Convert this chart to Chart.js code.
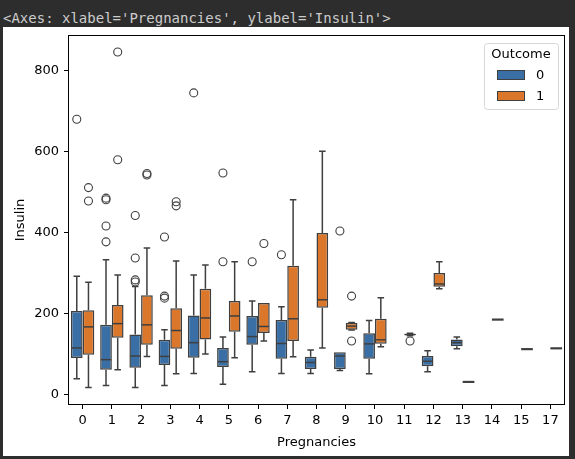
<!DOCTYPE html>
<html>
<head>
<meta charset="utf-8">
<script src="https://cdn.jsdelivr.net/npm/chart.js@4.4.0/dist/chart.umd.min.js"></script>
<style>
  html, body { margin: 0; padding: 0; background: #2d2d2d; width: 575px; height: 459px; overflow: hidden; }
  #head { position: absolute; left: 3px; top: 9px; font: 14px "DejaVu Sans Mono", monospace; color: #cccccc; white-space: pre; line-height: 18px; }
  #panel { position: absolute; left: 3px; top: 27px; width: 566px; height: 429px; background: #fff; }
  canvas { display: block; }
</style>
</head>
<body>
<div id="head">&lt;Axes: xlabel='Pregnancies', ylabel='Insulin'&gt;</div>
<div id="panel"><canvas id="chart" width="566" height="429"></canvas></div>
<script>
// categories on the x axis (Pregnancies)
const categories = ["0", "1", "2", "3", "4", "5", "6", "7", "8", "9", "10", "11", "12", "13", "14", "15", "17"];
const hueLabels = ["0", "1"];
const legendTitle = "Outcome";
const yTicks = [0, 200, 400, 600, 800];

// Outcome 0 : whisker low, Q1, median, Q3, whisker high, fliers
const lo0  = [39, 22, 17, 22, 52, 25, 56, 52, 52, 59, 51, null, 56, 113, null, null, null];
const q1_0 = [90, 61, 66, 73, 91, 68, 123, 88, 63, 63, 88, null, 70, 119, null, null, null];
const med0 = [115, 86, 95, 94, 128, 81, 143, 126, 79, 95, 125, null, 82, 128, null, null, null];
const q3_0 = [206, 172, 148, 135, 195, 115, 194, 184, 93, 104, 151, null, 95, 136, null, null, null];
const hi0  = [292, 333, 267, 160, 295, 142, 231, 217, 110, 104, 183, null, 108, 142, null, null, null];
const out0 = [[680], [485, 481, 416, 377], [442, 337, 283, 278], [389, 243, 238], [745], [547, 328], [328], [345], [], [404], [], [], [], [], [], [], []];

// Outcome 1
const lo1  = [17, 61, 94, 51, 100, 91, 132, 93, 115, 159, 118, 145, 261, 31, 185, 112, 114];
const q1_1 = [98, 140, 123, 113, 136, 155, 152, 132, 214, 160, 125, 146, 266, 31, 185, 112, 114];
const med1 = [167, 175, 172, 158, 189, 194, 168, 187, 234, 169, 135, 148, 273, 31, 185, 112, 114];
const q3_1 = [208, 221, 245, 213, 261, 231, 226, 318, 399, 177, 187, 150, 300, 31, 185, 112, 114];
const hi1  = [277, 295, 362, 330, 320, 328, 226, 481, 601, 178, 239, 151, 328, 31, 185, 112, 114];
const out1 = [[511, 478], [846, 580], [546, 542], [476, 466], [], [], [373], [], [], [243, 132], [], [132], [], [], [], [], []];

const palette = ["#3a6fa5", "#da772b"];
const lineColor = "#3f3f3f";
const font = { family: "DejaVu Sans", size: 13 };

function boxData(q1, q3) {
  return q1.map((v, i) => (v == null ? null : [v, q3[i]]));
}

// whiskers, medians, fliers, spines and legend drawn on top of the IQR bars
const boxPlugin = {
  id: "boxWhiskers",
  afterDatasetsDraw(chart) {
    const ctx = chart.ctx;
    const y = chart.scales.y;
    const area = chart.chartArea;
    ctx.save();
    chart.data.datasets.forEach((ds, di) => {
      const meta = chart.getDatasetMeta(di);
      const st = ds.stats;
      meta.data.forEach((bar, i) => {
        if (st.med[i] == null) return;
        const { x, width } = bar.getProps(["x", "width"], true);
        const half = width / 2;
        const cap = width * 0.28;
        const flat = st.q1[i] === st.q3[i];
        ctx.strokeStyle = lineColor;
        ctx.lineWidth = 1.5;
        ctx.lineCap = "butt";
        ctx.beginPath();
        if (st.hi[i] > st.q3[i]) {
          ctx.moveTo(x, y.getPixelForValue(st.q3[i]));
          ctx.lineTo(x, y.getPixelForValue(st.hi[i]));
          ctx.moveTo(x - cap, y.getPixelForValue(st.hi[i]));
          ctx.lineTo(x + cap, y.getPixelForValue(st.hi[i]));
        }
        if (st.lo[i] < st.q1[i]) {
          ctx.moveTo(x, y.getPixelForValue(st.q1[i]));
          ctx.lineTo(x, y.getPixelForValue(st.lo[i]));
          ctx.moveTo(x - cap, y.getPixelForValue(st.lo[i]));
          ctx.lineTo(x + cap, y.getPixelForValue(st.lo[i]));
        }
        ctx.stroke();
        const my = y.getPixelForValue(st.med[i]);
        ctx.beginPath();
        ctx.lineWidth = flat ? 2.2 : 1.5;
        ctx.moveTo(x - half + (flat ? 0 : 0.75), my);
        ctx.lineTo(x + half - (flat ? 0 : 0.75), my);
        ctx.stroke();

        ctx.lineWidth = 1.1;
        st.out[i].forEach(v => {
          ctx.beginPath();
          ctx.arc(x, y.getPixelForValue(v), 4, 0, Math.PI * 2);
          ctx.stroke();
        });
      });
    });

    // spines
    ctx.strokeStyle = "#000";
    ctx.lineWidth = 1;
    ctx.strokeRect(area.left + 0.5, area.top + 0.5, area.right - area.left - 1, area.bottom - area.top - 1);

    // legend
    const lw = 74, lh = 66;
    const lx = area.right - 7 - lw, ly = area.top + 8;
    ctx.beginPath();
    ctx.roundRect(lx + 0.5, ly + 0.5, lw, lh, 3);
    ctx.fillStyle = "rgba(255,255,255,0.8)";
    ctx.fill();
    ctx.strokeStyle = "#d6d6d6";
    ctx.stroke();
    ctx.font = `${font.size}px "${font.family}"`;
    ctx.fillStyle = "#000";
    ctx.textBaseline = "middle";
    ctx.textAlign = "center";
    ctx.fillText(legendTitle, lx + lw / 2, ly + 12);
    ctx.textAlign = "left";
    hueLabels.forEach((lab, k) => {
      const py = ly + 27 + k * 21;
      ctx.fillStyle = palette[k];
      ctx.fillRect(lx + 13, py, 28, 10);
      ctx.strokeStyle = lineColor;
      ctx.lineWidth = 1;
      ctx.strokeRect(lx + 13.5, py + 0.5, 27, 9);
      ctx.fillStyle = "#000";
      ctx.fillText(lab, lx + 52, py + 5.5);
    });
    ctx.restore();
  }
};

const datasets = [
  { label: hueLabels[0], data: boxData(q1_0, q3_0), backgroundColor: palette[0],
    stats: { lo: lo0, q1: q1_0, med: med0, q3: q3_0, hi: hi0, out: out0 } },
  { label: hueLabels[1], data: boxData(q1_1, q3_1), backgroundColor: palette[1],
    stats: { lo: lo1, q1: q1_1, med: med1, q3: q3_1, hi: hi1, out: out1 } }
].map(d => Object.assign(d, {
  borderColor: lineColor,
  borderWidth: 1.5,
  borderSkipped: false,
  categoryPercentage: 0.8,
  barPercentage: 1.0
}));

new Chart(document.getElementById("chart"), {
  type: "bar",
  data: { labels: categories, datasets },
  options: {
    responsive: false,
    animation: false,
    layout: { padding: { top: 8, right: 4, left: 0, bottom: 0 } },
    plugins: { legend: { display: false }, tooltip: { enabled: false } },
    scales: {
      x: {
        offset: true,
        grid: { offset: false, drawOnChartArea: false, drawTicks: true, tickLength: 4, color: "#000", lineWidth: 1 },
        border: { display: false },
        ticks: { color: "#000", font, padding: 4, maxRotation: 0, autoSkip: false },
        title: { display: true, text: "Pregnancies", color: "#000", font, padding: { top: 0, bottom: 6 } },
        afterFit: s => { s.height = 51; s.paddingLeft = 0; s.paddingRight = 0; }
      },
      y: {
        min: -26,
        max: 888,
        afterBuildTicks: s => { s.ticks = yTicks.map(v => ({ value: v })); },
        grid: { drawOnChartArea: false, drawTicks: true, tickLength: 4, color: "#000", lineWidth: 1 },
        border: { display: false },
        ticks: { color: "#000", font, padding: 5 },
        title: { display: true, text: "Insulin", color: "#000", font, padding: { top: 10, bottom: 10 } },
        afterFit: s => { s.width = 65; s.paddingTop = 0; s.paddingBottom = 0; }
      }
    }
  },
  plugins: [boxPlugin]
});
</script>
</body>
</html>
